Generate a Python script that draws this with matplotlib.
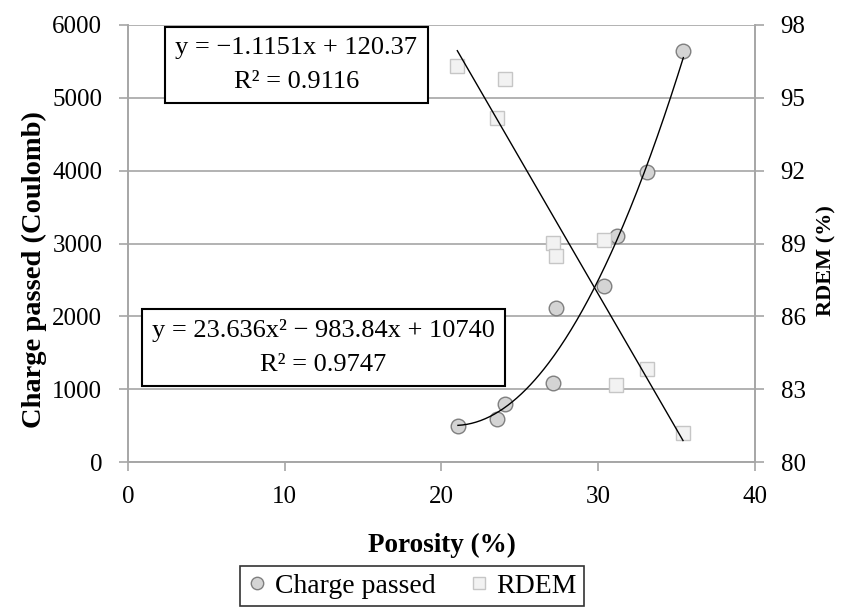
import numpy as np
import matplotlib.pyplot as plt

plt.rcParams['font.family'] = ['Liberation Serif', 'DejaVu Serif']

# porosity (%) and measured values
porosity_cp = [21.05, 23.55, 24.07, 27.13, 27.28, 30.39, 31.17, 33.13, 35.43]
charge = [500, 586, 792, 1089, 2119, 2417, 3103, 3986, 5643]

porosity_rd = [21.01, 24.07, 23.56, 27.13, 27.28, 30.39, 33.13, 31.13, 35.41]
rdem = [96.32, 95.76, 94.16, 89.03, 88.49, 89.14, 83.82, 83.17, 81.18]

# fitted trend lines
quad_coef = [23.636, -983.84, 10740]
quad_r2 = 0.9747
lin_coef = [-1.1151, 120.37]
lin_r2 = 0.9116

fig = plt.figure(figsize=(8.41, 6.08), dpi=100)
ax = fig.add_axes([0.1522, 0.2401, 0.7455, 0.7188])
ax2 = ax.twinx()

grid_c = '#a6a6a6'
ax.set_xlim(0, 40)
ax.set_ylim(0, 6000)
ax2.set_ylim(80, 98)
ax.set_xticks(np.arange(0, 41, 10))
ax.set_yticks(np.arange(0, 6001, 1000))
ax2.set_yticks(np.arange(80, 99, 3))
ax.yaxis.grid(True, color=grid_c, lw=1.2)
ax.set_axisbelow(True)

for a in (ax, ax2):
    a.spines['top'].set_visible(False)
    for s in ('left', 'right', 'bottom'):
        a.spines[s].set_color(grid_c)
        a.spines[s].set_linewidth(1.2)
    a.tick_params(axis='both', colors=grid_c, length=6.5, width=1.2,
                  labelcolor='black', labelsize=18)
ax.tick_params(axis='y', pad=12)
ax.tick_params(axis='x', pad=11)
ax2.tick_params(axis='y', pad=12)

ax.plot(porosity_cp, charge, 'o', ms=10.5, mfc='#d4d4d4', mec='#7f7f7f',
        mew=1.0, label='Charge passed', zorder=3)
ax2.plot(porosity_rd, rdem, 's', ms=10, mfc='#f2f2f2', mec='#c6c6c6',
         mew=1.0, label='RDEM', zorder=3)

xq = np.linspace(min(porosity_cp), max(porosity_cp), 200)
ax.plot(xq, np.polyval(quad_coef, xq), color='black', lw=1.0, zorder=4)
xl = np.array([min(porosity_rd), max(porosity_rd)])
ax2.plot(xl, np.polyval(lin_coef, xl), color='black', lw=1.0, zorder=4)

ax.set_xlabel('Porosity (%)', fontsize=19.5, fontweight='bold', labelpad=18)
ax.set_ylabel('Charge passed (Coulomb)', fontsize=20.5, fontweight='bold', labelpad=4)
ax.yaxis.label.set_y(0.44)
ax2.set_ylabel('RDEM (%)', fontsize=16, fontweight='bold', labelpad=8)
ax2.yaxis.label.set_y(0.46)

box = dict(boxstyle='square,pad=0.38', fc='white', ec='black', lw=1.5)
ax.text(10.75, 5451,
        'y = \u22121.1151x + 120.37\nR\u00b2 = %.4f' % lin_r2,
        ha='center', va='center', multialignment='center', fontsize=19,
        linespacing=1.75, bbox=box, zorder=5)
ax.text(12.47, 1572,
        'y = 23.636x\u00b2 \u2212 983.84x + 10740\nR\u00b2 = %.4f' % quad_r2,
        ha='center', va='center', multialignment='center', fontsize=19,
        linespacing=1.75, bbox=box, zorder=5)

h1, l1 = ax.get_legend_handles_labels()
h2, l2 = ax2.get_legend_handles_labels()
leg = fig.legend(h1 + h2, l1 + l2, loc='lower center', bbox_to_anchor=(0.49, 0.004),
                 ncol=2, fontsize=20, frameon=True, fancybox=False,
                 markerscale=0.85, handlelength=0.7, handletextpad=0.3,
                 columnspacing=1.2, borderpad=0.25, borderaxespad=0)
leg.get_frame().set_edgecolor('black')
leg.get_frame().set_linewidth(1.2)

fig.savefig('out.png', dpi=100)
